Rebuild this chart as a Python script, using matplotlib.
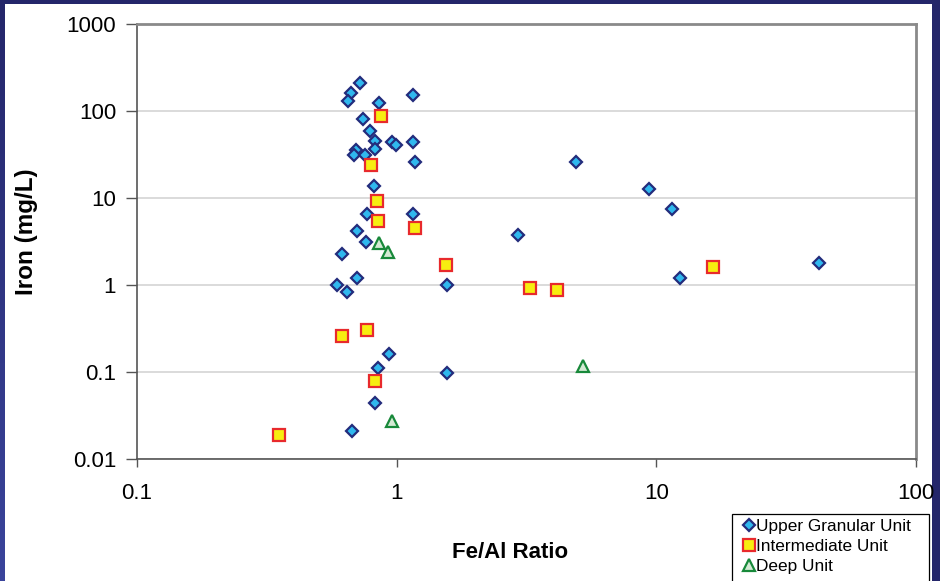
import numpy as np
import matplotlib
matplotlib.use("Agg")
import matplotlib.pyplot as plt
from matplotlib.patches import Rectangle
from matplotlib.lines import Line2D

plt.rcParams['font.family'] = ['Liberation Sans', 'DejaVu Sans']

# ---- data ----
upper_x = [0.722, 0.665, 0.648, 0.857, 1.152, 0.744, 0.787, 0.827, 0.825, 0.959,
           0.994, 1.152, 0.697, 0.685, 0.755, 1.179, 0.818, 0.768, 1.152, 0.705,
           0.760, 0.614, 0.705, 0.587, 0.642, 1.562, 0.934, 0.848, 1.562, 0.827,
           0.671, 4.89, 9.34, 11.48, 2.92, 12.36, 42.2]
upper_y = [211, 159, 130, 123, 152, 80.5, 58.6, 45.8, 36.8, 43.5,
           40.9, 43.8, 35.2, 31.0, 30.8, 25.8, 13.7, 6.58, 6.58, 4.23,
           3.16, 2.27, 1.21, 1.005, 0.835, 1.0, 0.159, 0.111, 0.098, 0.0438,
           0.0209, 25.6, 12.6, 7.57, 3.78, 1.20, 1.80]

inter_x = [0.868, 0.796, 0.838, 0.847, 1.179, 1.544, 0.768, 0.617, 0.827, 3.26,
           4.15, 16.6, 0.352]
inter_y = [87.2, 23.8, 9.19, 5.47, 4.54, 1.68, 0.300, 0.258, 0.0792, 0.929,
           0.865, 1.60, 0.0188]

deep_x = [0.855, 0.923, 0.959, 5.20]
deep_y = [3.02, 2.38, 0.0277, 0.117]

series_names = ["Upper Granular Unit", "Intermediate Unit", "Deep Unit"]
x_ticks = [0.1, 1, 10, 100]
x_tick_labels = ["0.1", "1", "10", "100"]
y_ticks = [0.01, 0.1, 1, 10, 100, 1000]
y_tick_labels = ["0.01", "0.1", "1", "10", "100", "1000"]

W, H = 940, 581
fig = plt.figure(figsize=(W / 100, H / 100), dpi=100)

# ---- slide background (navy frame with subtle gradient) ----
bg = fig.add_axes([0, 0, 1, 1], zorder=-10)
xx, yy = np.meshgrid(np.linspace(0, 1, 200), np.linspace(0, 1, 200))
t = np.clip((1 - xx) * 0.8 * yy, 0, 1)  # yy: 0 top, 1 bottom
c0 = np.array([0x24, 0x26, 0x6a]) / 255
c1 = np.array([0x40, 0x4c, 0xa8]) / 255
img = c0[None, None, :] * (1 - t[..., None]) + c1[None, None, :] * t[..., None]
bg.imshow(img, aspect='auto', extent=[0, 1, 0, 1], origin='upper')
bg.set_xlim(0, 1); bg.set_ylim(0, 1)
bg.axis('off')
bg.add_patch(Rectangle((5 / W, 0), (932 - 5) / W, (H - 4) / H,
                       transform=bg.transAxes, facecolor='white', edgecolor='none'))
# legend frame (box runs off the bottom of the slide)
bg.add_patch(Rectangle((732 / W, -0.02), (929 - 732) / W, 1 - 514 / H + 0.02,
                       transform=bg.transAxes, facecolor='white',
                       edgecolor='black', linewidth=0.9))

# ---- main axes ----
ax = fig.add_axes([137 / W, 1 - 459 / H, (916 - 137) / W, (459 - 24) / H])
ax.set_xscale('log')
ax.set_yscale('log')
ax.set_xlim(0.1, 100)
ax.set_ylim(0.01, 1000)

ax.yaxis.grid(True, which='major', color='#d4d4d4', linewidth=1.2)
ax.xaxis.grid(False)
ax.set_axisbelow(True)

ms_d, ms_s, ms_t = 6.3, 8.3, 9
style_upper = dict(marker='D', markersize=ms_d, markerfacecolor='#2fb8ee',
                   markeredgecolor='#232c7c', markeredgewidth=1.6)
style_inter = dict(marker='s', markersize=ms_s, markerfacecolor='#f7ee10',
                   markeredgecolor='#e82a2c', markeredgewidth=1.6)
style_deep = dict(marker='^', markersize=ms_t, markerfacecolor='#d4ead4',
                  markeredgecolor='#18893a', markeredgewidth=1.6)

ax.plot(upper_x, upper_y, linestyle='none', label=series_names[0], zorder=3, **style_upper)
ax.plot(inter_x, inter_y, linestyle='none', label=series_names[1], zorder=4, **style_inter)
ax.plot(deep_x, deep_y, linestyle='none', label=series_names[2], zorder=5, **style_deep)

ax.set_xticks(x_ticks)
ax.set_xticklabels(x_tick_labels)
ax.set_yticks(y_ticks)
ax.set_yticklabels(y_tick_labels)
ax.minorticks_off()
ax.tick_params(axis='both', which='major', direction='out', width=1,
               color='#555555', labelsize=16, labelcolor='black')
ax.tick_params(axis='x', length=6, pad=11)
ax.tick_params(axis='y', length=8, pad=7)

for s in ['top', 'right']:
    ax.spines[s].set_color('#8a8a8a')
    ax.spines[s].set_linewidth(2)
for s in ['left', 'bottom']:
    ax.spines[s].set_color('#555555')
    ax.spines[s].set_linewidth(1.2)

# axis titles
fig.text(510 / W, 1 - 552 / H, "Fe/Al Ratio", ha='center', va='center',
         fontsize=16, fontweight='bold')
fig.text(27 / W, 1 - 232 / H, "Iron (mg/L)", ha='center', va='center',
         rotation=90, fontsize=17.5, fontweight='bold')

# legend
handles = [Line2D([], [], linestyle='none', **style_upper),
           Line2D([], [], linestyle='none', **style_inter),
           Line2D([], [], linestyle='none', **style_deep)]
leg = fig.legend(handles, series_names, loc='upper left',
                 bbox_to_anchor=(745 / W, 1 - 519 / H), fontsize=12.4,
                 frameon=False, handlelength=0.5,
                 handletextpad=0.15, borderpad=0, labelspacing=0.3,
                 borderaxespad=0)

fig.savefig("out.png", dpi=100)
